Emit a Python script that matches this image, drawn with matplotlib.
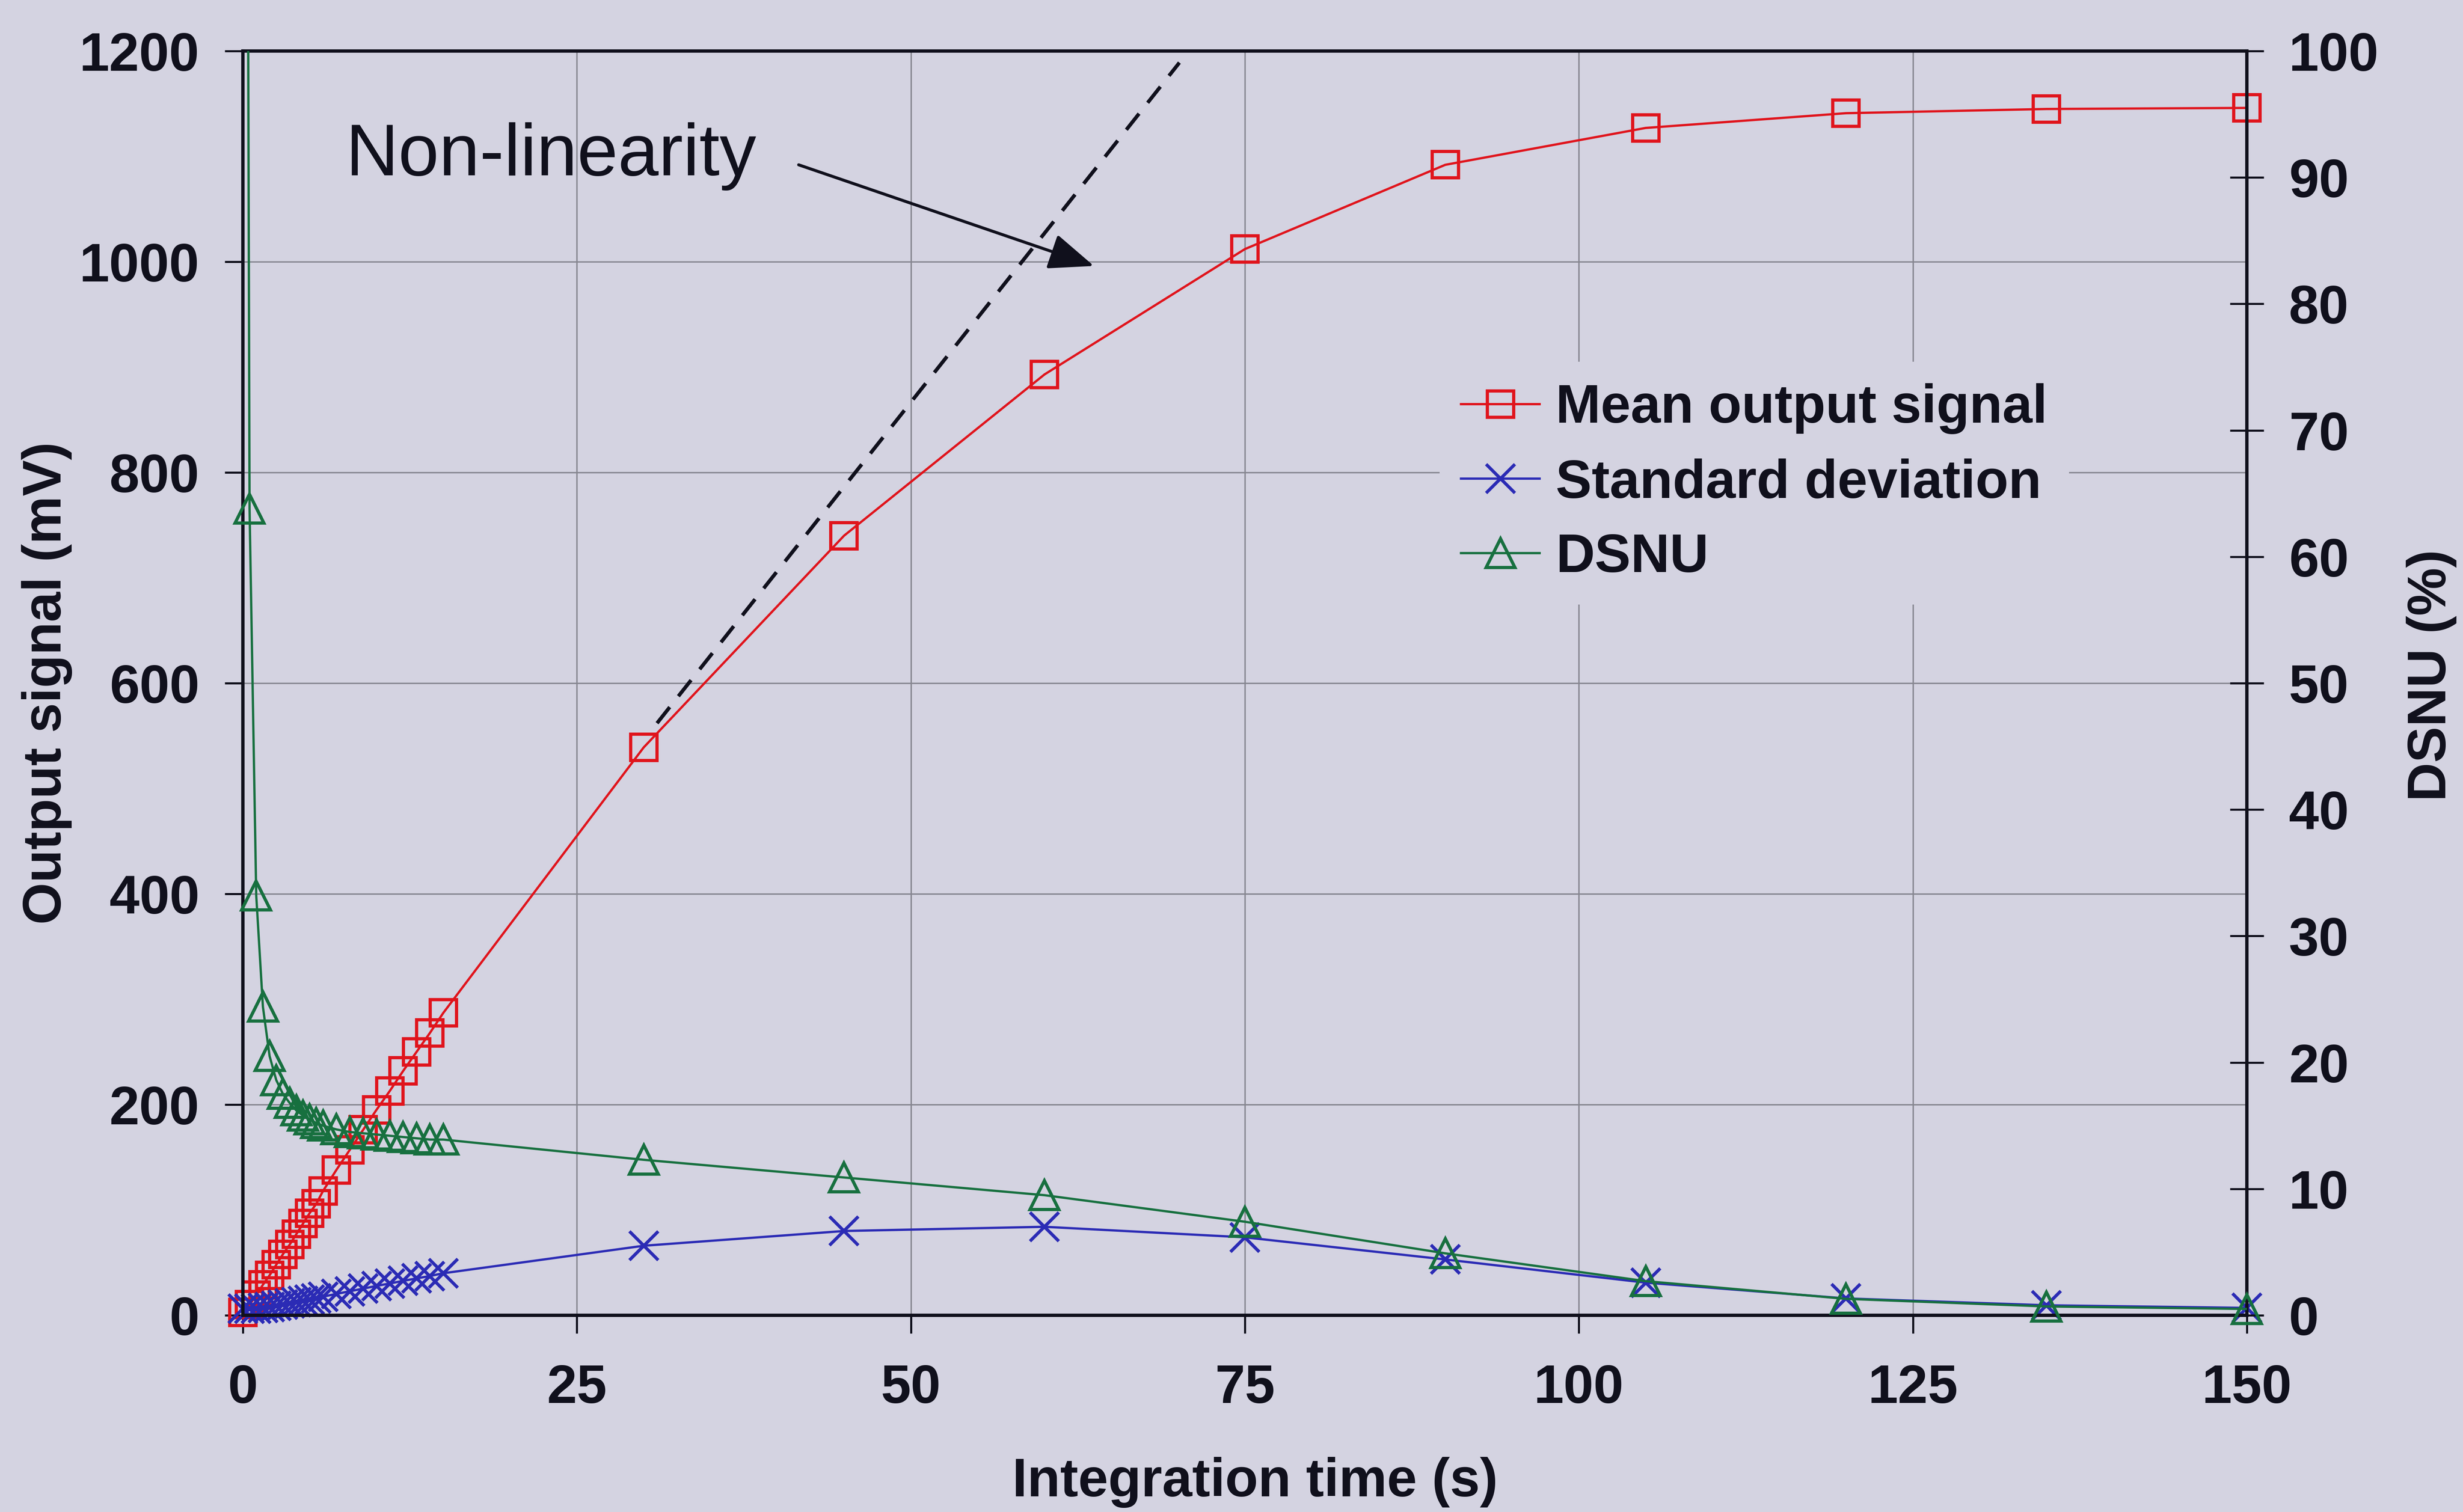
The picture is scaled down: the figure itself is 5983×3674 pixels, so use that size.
import matplotlib
matplotlib.use("Agg")
import matplotlib.pyplot as plt
from matplotlib.lines import Line2D

plt.rcParams["font.family"] = ["Liberation Sans", "DejaVu Sans"]

# ---- data -------------------------------------------------------------
time_s = [0, 0.5, 1, 1.5, 2, 2.5, 3, 3.5, 4, 4.5, 5, 5.5, 6,
          7, 8, 9, 10, 11, 12, 13, 14, 15,
          30, 45, 60, 75, 90, 105, 120, 135, 150]

mean_mv = [2.6, 10, 19, 29, 38, 48, 58, 67, 77, 87, 97, 106, 118,
           138, 157, 176, 195, 213, 232, 250, 268, 287,
           539, 740, 893, 1012, 1092, 1127, 1141, 1145, 1146]

std_mv = [6.4, 6.4, 6.3, 7.1, 7.8, 8.9, 10.1, 11.3, 12.5, 13.7, 15.0, 16.1, 17.7,
          20.3, 22.8, 25.3, 27.9, 30.2, 32.7, 35.0, 37.3, 39.9,
          66, 80, 84, 74, 53, 31, 16, 9.5, 7]

dsnu_pct = [246, 63.8, 33.2, 24.4, 20.5, 18.6, 17.5, 16.8, 16.2, 15.8, 15.5, 15.2, 15.0,
            14.7, 14.5, 14.4, 14.3, 14.2, 14.1, 14.0, 13.9, 13.9,
            12.3, 10.9, 9.5, 7.4, 4.9, 2.7, 1.3, 0.7, 0.5]

# linear extrapolation guide and its annotation
linear_t = [31.0, 70.1]
linear_mv = [562, 1189]
note_text = "Non-linearity"
note_xy = (7.7, 1082)
arrow_start = (41.6, 1092)
arrow_tip = (63.7, 996)

x_ticks = [0, 25, 50, 75, 100, 125, 150]
y_ticks = [0, 200, 400, 600, 800, 1000, 1200]
y2_ticks = [0, 10, 20, 30, 40, 50, 60, 70, 80, 90, 100]

# ---- style ------------------------------------------------------------
BG = "#d4d3e1"
INK = "#10101c"
RED = "#e0141c"
BLUE = "#2b2bb5"
GREEN = "#17703f"
GRID = "#868690"
FS = 23.6
LW = 1.0
MEW = 1.4

fig = plt.figure(figsize=(5983 / 400, 3674 / 400), dpi=400, facecolor=BG)
ax = fig.add_axes([0.09861, 0.13010, 0.81364, 0.83615])
ax.set_facecolor(BG)
ax2 = ax.twinx()
ax2.patch.set_visible(False)

ax.set_xlim(0, 150)
ax.set_ylim(0, 1200)
ax2.set_ylim(0, 100)

ax.set_xticks(x_ticks)
ax.set_yticks(y_ticks)
ax2.set_yticks(y2_ticks)

ax.grid(True, color=GRID, linewidth=0.6, zorder=0)
ax.set_axisbelow(True)

for a in (ax, ax2):
    for s in a.spines.values():
        s.set_linewidth(1.45)
        s.set_color(INK)

ax.tick_params(axis="both", direction="out", length=8, width=0.9, color=INK,
               labelsize=FS, labelcolor=INK, pad=11)
ax.tick_params(axis="x", pad=13)
ax2.tick_params(axis="y", direction="inout", length=14.8, width=0.9, color=INK,
                labelsize=FS, labelcolor=INK, pad=11)
for lab in ax.get_xticklabels() + ax.get_yticklabels() + ax2.get_yticklabels():
    lab.set_fontweight("bold")

# ---- series -----------------------------------------------------------
sq_style = dict(marker="s", markersize=11.5, markerfacecolor="none",
                markeredgecolor=RED, markeredgewidth=MEW)
x_style = dict(marker="x", markersize=12.5, markeredgecolor=BLUE, markeredgewidth=MEW)
tri_style = dict(marker="^", markersize=12.5, markerfacecolor="none",
                 markeredgecolor=GREEN, markeredgewidth=MEW)

ax.plot(time_s, mean_mv, color=RED, linewidth=LW, clip_on=False, zorder=3, **sq_style)
ax.plot(time_s, std_mv, color=BLUE, linewidth=LW, clip_on=False, zorder=4, **x_style)

ax2.plot(time_s, dsnu_pct, color=GREEN, linewidth=LW, zorder=3)
in_range = [i for i, v in enumerate(dsnu_pct) if v <= 100]
ax2.plot(time_s, dsnu_pct, linestyle="none", markevery=in_range,
         clip_on=False, zorder=4, **tri_style)

ax.plot(linear_t, linear_mv, color=INK, linewidth=1.6, linestyle=(0, (5.6, 3.8)), zorder=2)

ax.text(note_xy[0], note_xy[1], note_text, fontsize=32, color=INK,
        ha="left", va="baseline")
ax.annotate("", xy=arrow_tip, xytext=arrow_start,
            arrowprops=dict(arrowstyle="-|>,head_length=0.85,head_width=0.34",
                            mutation_scale=20, color=INK, linewidth=1.3,
                            shrinkA=0, shrinkB=0))

# ---- axis titles --------------------------------------------------------
fig.text(114 / 5983, 1 - 1660 / 3674, "Output signal (mV)", rotation=90,
         fontsize=FS, fontweight="bold", color=INK, ha="center", va="center")
fig.text(5907 / 5983, 1 - 1641 / 3674, "DSNU (%)", rotation=90,
         fontsize=FS, fontweight="bold", color=INK, ha="center", va="center")
fig.text(3049 / 5983, 1 - 3602 / 3674, "Integration time (s)",
         fontsize=FS, fontweight="bold", color=INK, ha="center", va="center")

# ---- legend -------------------------------------------------------------
handles = [
    Line2D([], [], color=RED, linewidth=LW, **sq_style),
    Line2D([], [], color=BLUE, linewidth=LW, **x_style),
    Line2D([], [], color=GREEN, linewidth=LW, **tri_style),
]
labels = ["Mean output signal", "Standard deviation", "DSNU"]
leg = ax2.legend(handles, labels, loc="upper left",
                 bbox_to_anchor=(3497 / 5983, 1 - 879 / 3674),
                 bbox_transform=fig.transFigure,
                 prop={"weight": "bold", "size": FS}, frameon=True,
                 facecolor=BG, edgecolor="none", framealpha=1.0, fancybox=False,
                 handlelength=1.45, handletextpad=0.3, labelspacing=0.44,
                 borderpad=0.4, borderaxespad=0, numpoints=1)
for t in leg.get_texts():
    t.set_color(INK)

fig.savefig("out.png", dpi=400, facecolor=BG)
